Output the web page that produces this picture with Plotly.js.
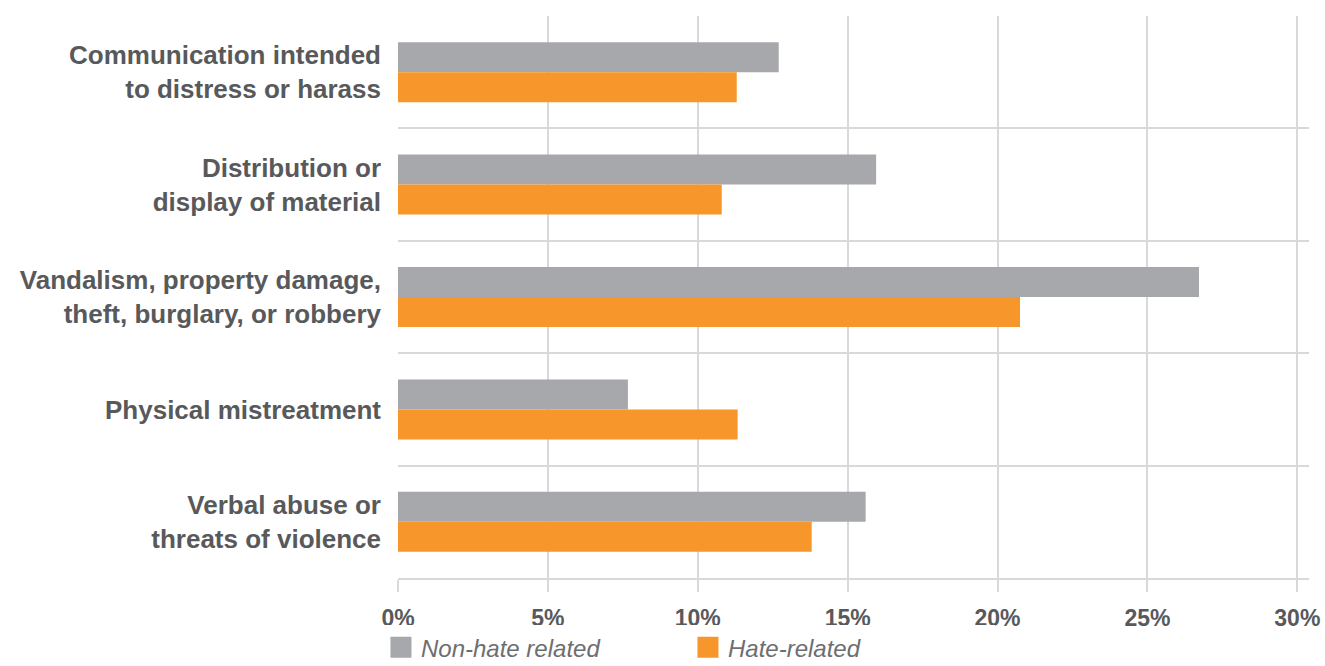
<!DOCTYPE html>
<html>
<head>
<meta charset="utf-8">
<script src="https://cdn.plot.ly/plotly-3.0.1.min.js"></script>
<style>html,body{margin:0;padding:0;background:#fff;}#chart{width:1325px;height:666px;}</style>
</head>
<body>
<div id="chart"></div>
<script>
const categories = [
  "Communication intended<br>to distress or harass",
  "Distribution or<br>display of material",
  "Vandalism, property damage,<br>theft, burglary, or robbery",
  "Physical mistreatment",
  "Verbal abuse or<br>threats of violence"
];
const nonHate = [12.7, 15.95, 26.72, 7.67, 15.6];
const hateRelated = [11.3, 10.8, 20.75, 11.33, 13.8];
const seriesNames = ["Non-hate related", "Hate-related"];
const seriesColors = ["#a7a8ab", "#f7962a"];
const tickVals = [0, 5, 10, 15, 20, 25, 30];
const tickText = ["0%", "5%", "10%", "15%", "20%", "25%", "30%"];

const textColor = "#58595b";
const gridColor = "#d9d9da";
const fontFam = "Liberation Sans, Arial, sans-serif";

const data = [
  {type: "bar", orientation: "h", name: seriesNames[0], y: categories, x: nonHate,
   marker: {color: seriesColors[0]}, showlegend: false, legendgroup: "a"},
  {type: "bar", orientation: "h", name: seriesNames[1], y: categories, x: hateRelated,
   marker: {color: seriesColors[1]}, showlegend: false, legendgroup: "b"}
];
// legend-only swatches (larger squares like the original key)
seriesNames.forEach(function (n, i) {
  data.push({type: "scatter", mode: "markers", name: n, x: [null], y: [null],
    legendgroup: i === 0 ? "a" : "b",
    marker: {symbol: "square", size: 16, color: seriesColors[i],
             line: {color: seriesColors[i], width: 5}},
    hoverinfo: "skip"});
});

const layout = {
  width: 1325, height: 666,
  margin: {l: 398, r: 16, t: 16, b: 88, autoexpand: false},
  paper_bgcolor: "#fff", plot_bgcolor: "#fff",
  barmode: "group", bargap: 0.466, bargroupgap: 0,
  showlegend: true,
  legend: {orientation: "h", x: -0.0187, xanchor: "left", y: -0.084, yanchor: "top",
    font: {family: fontFam, size: 24, color: "#6d6e71", style: "italic"},
    itemsizing: "trace",
    entrywidth: 262, entrywidthmode: "pixels", itemclick: false},
  xaxis: {
    range: [0, 30.39], tickvals: tickVals, ticktext: tickText,
    showgrid: true, gridcolor: gridColor, gridwidth: 2,
    zeroline: false, showline: true, linecolor: gridColor, linewidth: 2,
    ticks: "outside", ticklen: 12, tickcolor: gridColor, tickwidth: 2,
    ticklabelstandoff: 6,
    tickfont: {family: fontFam, size: 23, color: textColor, weight: "bold"},
    fixedrange: true
  },
  yaxis: {
    type: "category", categoryorder: "array", categoryarray: categories,
    autorange: "reversed", tickson: "boundaries",
    showgrid: true, gridcolor: gridColor, gridwidth: 2,
    zeroline: false, showline: false, ticks: "",
    ticklabelstandoff: 16,
    tickfont: {family: fontFam, size: 26, color: textColor, weight: "bold"},
    fixedrange: true
  }
};

Plotly.newPlot("chart", data, layout, {displayModeBar: false, staticPlot: true});
</script>
</body>
</html>
